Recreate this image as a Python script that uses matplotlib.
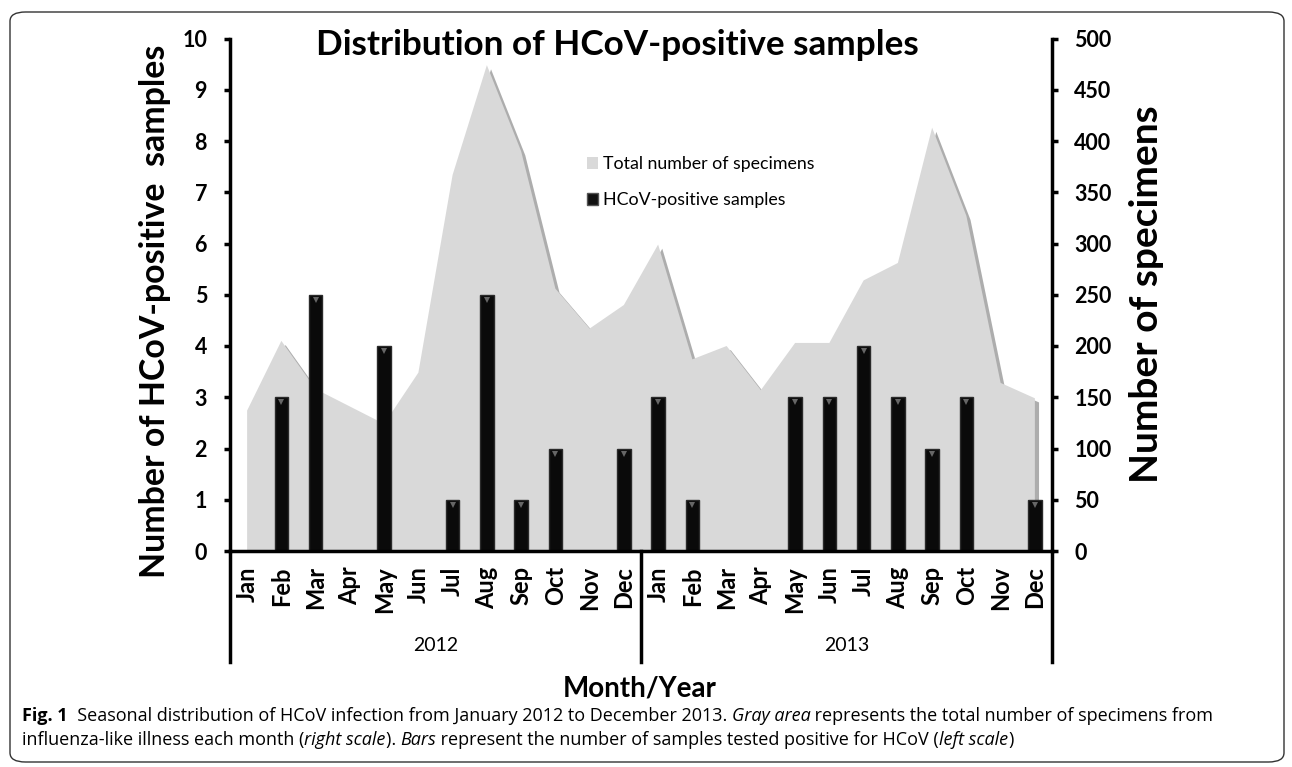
import numpy as np
import matplotlib
matplotlib.use("Agg")
import matplotlib.pyplot as plt
import matplotlib.patheffects as pe
from matplotlib.patches import Patch, FancyBboxPatch
from matplotlib.transforms import blended_transform_factory

plt.rcParams['font.family'] = ['Lato', 'DejaVu Sans']

months = ['Jan', 'Feb', 'Mar', 'Apr', 'May', 'Jun', 'Jul', 'Aug', 'Sep', 'Oct', 'Nov', 'Dec'] * 2
years = ['2012', '2013']
# total specimens per month (right scale)
total_specimens = [137, 205, 158, 141, 124, 174, 367, 474, 390, 256, 217, 240,
                   299, 187, 200, 157, 203, 203, 264, 281, 413, 327, 164, 149]
# HCoV-positive samples per month (left scale)
hcov_positive = [0, 3, 5, 0, 4, 0, 1, 5, 1, 2, 0, 2,
                 3, 1, 0, 0, 3, 3, 4, 3, 2, 3, 0, 1]

W, H = 1292, 767
fig = plt.figure(figsize=(W / 100, H / 100), dpi=100)

# rounded frame around the whole figure
fig.patches.append(FancyBboxPatch((10 / W, 5 / H), 1274 / W, 750 / H,
                                  boxstyle="round,pad=0,rounding_size=0.012",
                                  transform=fig.transFigure, fill=False,
                                  edgecolor='#333333', linewidth=1.0))

ax1 = fig.add_axes([230 / W, 1 - 551 / H, 822 / W, 512.5 / H])
ax2 = ax1.twinx()
x = np.arange(len(months))

# gray area, right scale
area = ax2.fill_between(x, 0, total_specimens, color='#d9d9d9', linewidth=0)
area.set_path_effects([pe.SimplePatchShadow(offset=(3, -3), shadow_rgbFace='#777777', alpha=0.6),
                       pe.Normal()])

# bars, left scale
ax1.bar(x, hcov_positive, width=0.39, color='#0a0a0a', edgecolor='#2a2a2a', linewidth=1)
hx = [i for i, v in zip(x, hcov_positive) if v > 0]
hv = [v for v in hcov_positive if v > 0]
ax1.plot(hx, [v - 0.1 for v in hv], linestyle='none', marker='v', markersize=4,
         color='#666666', markeredgewidth=0)

ax1.set_zorder(ax2.get_zorder() + 1)
ax1.patch.set_visible(False)

ax1.set_xlim(-0.5, 23.5)
ax1.set_ylim(0, 10)
ax2.set_ylim(0, 500)
ax1.set_yticks(range(0, 11))
ax2.set_yticks(range(0, 501, 50))

for a in (ax1, ax2):
    for s in a.spines.values():
        s.set_linewidth(2.5)
    a.spines['top'].set_visible(False)
ax1.spines['right'].set_visible(False)
ax2.spines['left'].set_visible(False)
ax2.spines['bottom'].set_visible(False)

ax1.tick_params(axis='y', direction='out', length=4.5, width=2.5, labelsize=15.5, pad=12)
ax2.tick_params(axis='y', direction='out', length=4, width=2.5, labelsize=15.5, pad=12)
for lab in ax1.get_yticklabels() + ax2.get_yticklabels():
    lab.set_fontweight('bold')

ax1.set_xticks(x)
ax1.set_xticklabels(months, rotation=90, fontsize=17, fontweight='bold')
ax1.tick_params(axis='x', length=0, pad=11)

fig.text(155 / W, 1 - 311 / H, 'Number of HCoV-positive  samples', rotation=90,
         ha='center', va='center', fontsize=24.4, fontweight='bold')
fig.text(1147 / W, 1 - 294 / H, 'Number of specimens', rotation=90,
         ha='center', va='center', fontsize=28, fontweight='bold')

# year grouping lines and labels below the axis
tr = blended_transform_factory(ax1.transData, ax1.transAxes)
for xd in [-0.5, 11.5, 23.5]:
    ax1.plot([xd, xd], [0, -0.217], color='black', linewidth=2.5, transform=tr, clip_on=False)
for i, yr in enumerate(years):
    ax1.text(5.5 + 12 * i, -0.185, yr, transform=tr, ha='center', va='center', fontsize=14)

fig.text(640 / W, 1 - 688 / H, 'Month/Year', ha='center', va='center', fontsize=20, fontweight='bold')
fig.text(617 / W, 1 - 45 / H, 'Distribution of HCoV-positive samples', ha='center', va='center',
         fontsize=25.3, fontweight='bold')

ax1.legend(handles=[Patch(facecolor='#d9d9d9', label='Total number of specimens'),
                    Patch(facecolor='#111111', edgecolor='#555555', label='HCoV-positive samples')],
           loc='upper left', bbox_to_anchor=(587 / W, 1 - 156 / H), bbox_transform=fig.transFigure,
           frameon=False, fontsize=12.8, borderpad=0, borderaxespad=0,
           handlelength=0.62, handleheight=0.62, handletextpad=0.3, labelspacing=1.15)

# caption with mixed styles
cap_font = ['Open Sans', 'DejaVu Sans']
renderer = fig.canvas.get_renderer()


def rich_line(x0, y0, parts):
    xp = x0
    for s, w, st in parts:
        t = fig.text(xp / W, 1 - y0 / H, s, fontsize=13, fontweight=w, fontstyle=st,
                     family=cap_font, va='center', ha='left')
        xp += t.get_window_extent(renderer).width


rich_line(22, 716, [('Fig. 1', 'bold', 'normal'),
                    ('  Seasonal distribution of HCoV infection from January 2012 to December 2013. ', 'normal', 'normal'),
                    ('Gray area', 'normal', 'italic'),
                    (' represents the total number of specimens from', 'normal', 'normal')])
rich_line(22, 740, [('influenza-like illness each month (', 'normal', 'normal'),
                    ('right scale', 'normal', 'italic'),
                    ('). ', 'normal', 'normal'),
                    ('Bars', 'normal', 'italic'),
                    (' represent the number of samples tested positive for HCoV (', 'normal', 'normal'),
                    ('left scale', 'normal', 'italic'),
                    (')', 'normal', 'normal')])

fig.savefig('out.png', dpi=100)
